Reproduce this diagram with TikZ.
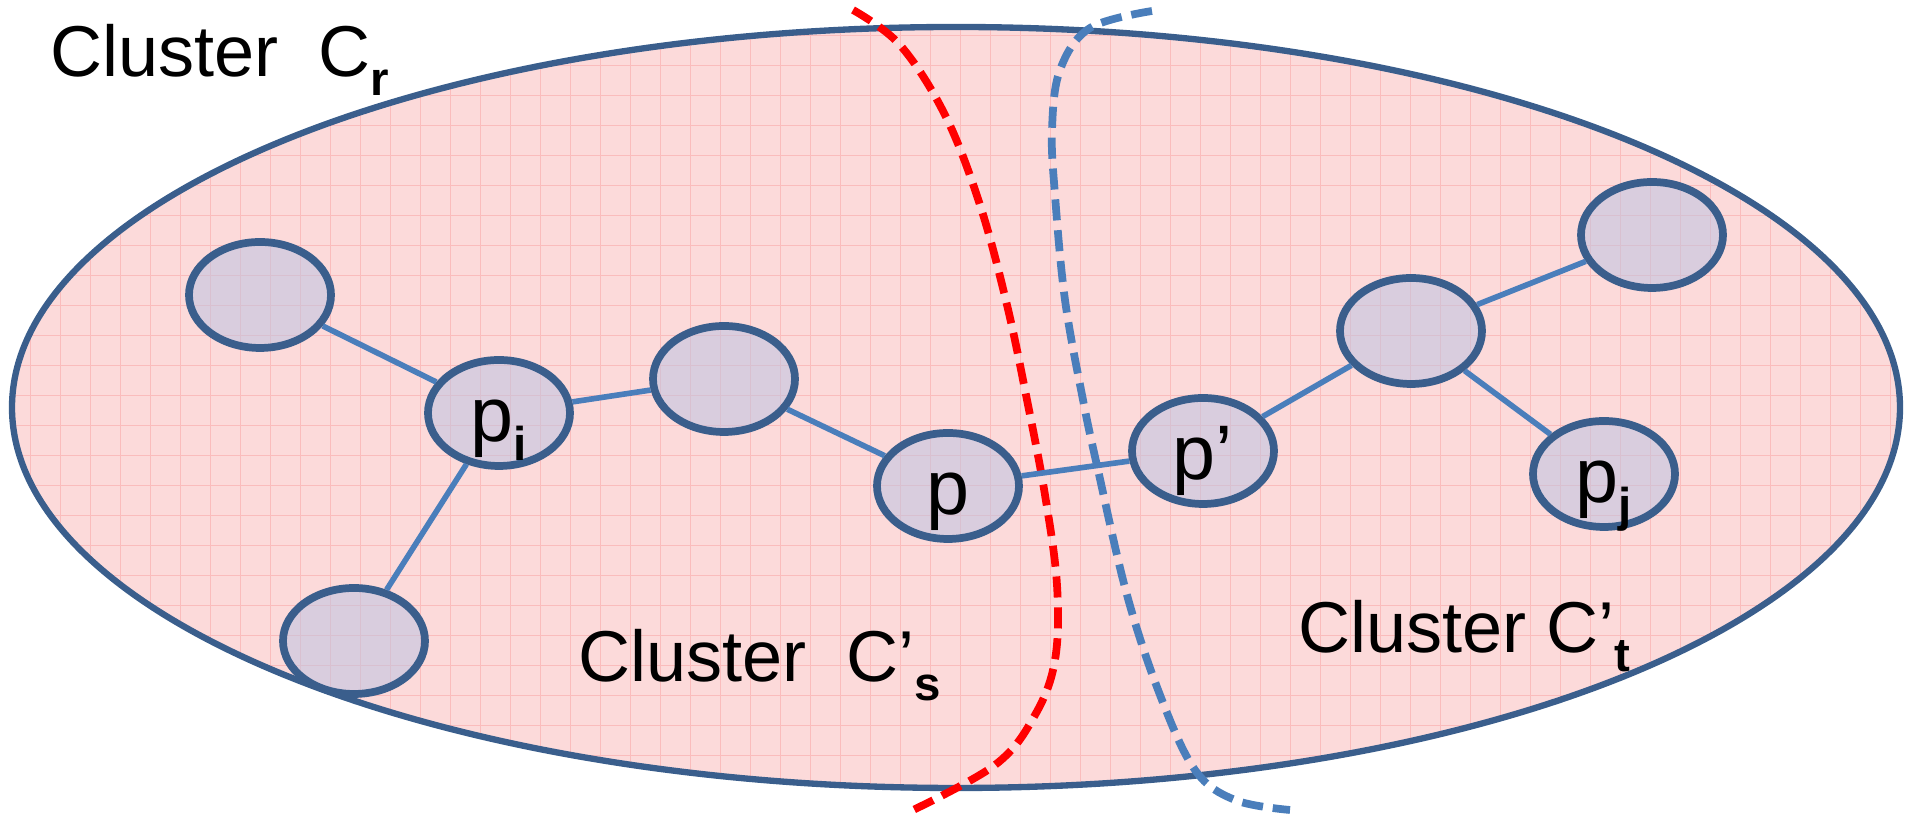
\documentclass[tikz,border=0pt]{standalone}
\usepackage{fontspec}
\setmainfont{Liberation Sans}
\usetikzlibrary{shapes.geometric}
\definecolor{rimblue}{RGB}{58,94,140}
\definecolor{linkblue}{RGB}{74,126,187}
\definecolor{pinkfill}{RGB}{252,218,218}
\definecolor{gridred}{RGB}{250,188,188}
\definecolor{nodefill}{RGB}{190,196,226}
\newcommand{\subidx}[1]{\raisebox{-0.19cm}{\fontsize{13.5}{14}\selectfont\bfseries #1}}
\tikzset{
 member/.style={ellipse, draw=rimblue, line width=2.2pt, fill=nodefill, fill opacity=0.55, text opacity=1,
  minimum width=1.42cm, minimum height=1.06cm, inner sep=0pt, text height=0.58cm, text depth=0cm,
  font=\fontsize{22}{26}\selectfont},
 link/.style={draw=linkblue, line width=1.6pt},
 cut/.style={line width=2.2pt, dash pattern=on 6pt off 2.8pt},
 clabel/.style={anchor=base west, inner sep=0pt, font=\fontsize{20.5}{24}\selectfont}
}

\begin{document}
\begin{tikzpicture}
\useasboundingbox (0,0) rectangle (19.1,8.15);
 \coordinate (O) at (9.56,4.075);
 %cluster C_r:
 \begin{scope}
 \clip (O) ellipse [x radius=9.44, y radius=3.805];
 \fill[pinkfill] (0,0) rectangle (19.1,8.15);
 \draw[gridred, line width=0.25pt, step=0.3] (0,0) grid (19.1,8.15);
 \end{scope}
 \draw[rimblue, line width=1.8pt] (O) ellipse [x radius=9.44, y radius=3.805];
 
 %cuts
 \draw[cut, red] plot[smooth, tension=0.6] coordinates {(8.53,8.05) (9.00,7.70) (9.45,7.00) (9.80,6.10) (10.07,5.10) (10.27,4.15) (10.45,3.20) (10.57,2.30) (10.55,1.55) (10.35,1.00) (9.95,0.50) (9.07,0.02)};
 \draw[cut, linkblue] plot[smooth, tension=0.6] coordinates {(11.52,8.04) (10.90,7.87) (10.60,7.45) (10.52,6.85) (10.55,6.20) (10.65,5.15) (10.83,4.15) (10.98,3.45) (11.27,2.20) (11.60,1.20) (11.95,0.45) (12.35,0.15) (12.90,0.05)};
 
 %points
 \node[member] (tl) at (2.60,5.20) {};
 \node[member] (pi) at (4.99,4.02) {p\subidx{i}};
 \node[member] (bl) at (3.54,1.74) {};
 \node[member] (mid) at (7.24,4.36) {};
 \node[member] (p) at (9.48,3.29) {p};
 \node[member] (pp) at (12.03,3.64) {p’};
 \node[member] (ur) at (14.11,4.84) {};
 \node[member] (tr) at (16.52,5.80) {};
 \node[member] (pj) at (16.04,3.41) {p\subidx{j}};
 
 %links
 \draw[link] (tl) -- (pi);
 \draw[link] (pi) -- (bl);
 \draw[link] (pi) -- (mid);
 \draw[link] (mid) -- (p);
 \draw[link] (p) -- (pp);
 \draw[link] (pp) -- (ur);
 \draw[link] (ur) -- (tr);
 \draw[link] (ur) -- (pj);
 
 %labels
 \node[clabel] (cr) at (0.50,7.38) {Cluster\ \ C\subidx{r}};
 \node[clabel] (cs) at (5.78,1.33) {Cluster\ \ C’\subidx{s}};
 \node[clabel] (ct) at (12.98,1.62) {Cluster C’\subidx{t}};
\end{tikzpicture}
\end{document}
